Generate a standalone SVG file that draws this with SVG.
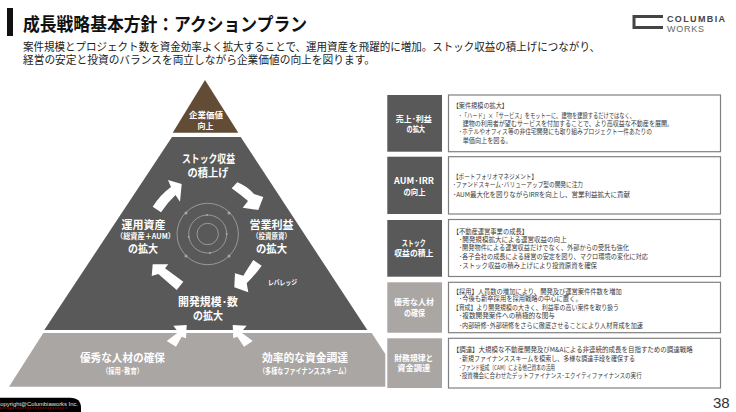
<svg xmlns="http://www.w3.org/2000/svg" width="736" height="412" viewBox="0 0 736 412">
<style>
text{font-family:"Noto Sans CJK JP","Liberation Sans",sans-serif}
.c{text-anchor:middle}
.w{fill:#fff;font-weight:700}
.tm{font-size:11px}
.ts{font-size:7.500px}
.lb{font-size:8.500px;fill:#fff;font-weight:700}
.b{fill:#fff;stroke:#808080;stroke-width:1.200}
.t{font-size:6.800px;fill:#3a3a3a}
.ring{fill:none;stroke:#a8a8a8;stroke-width:.8}
.dot{fill:#a8a8a8}
.ar{fill:#fff}
.lt{font-family:"Liberation Sans",sans-serif}
</style>
<rect width="736" height="412" fill="#fff"/>
<g id="header">
<rect x="7" y="8" width="6" height="28" fill="#111"/>
<text x="23" y="30.500" font-size="18.500" font-weight="700" fill="#111" textLength="284" lengthAdjust="spacingAndGlyphs">成長戦略基本方針：アクションプラン</text>
<text x="23" y="51" font-size="11" fill="#222" textLength="577" lengthAdjust="spacingAndGlyphs">案件規模とプロジェクト数を資金効率よく拡大することで、運用資産を飛躍的に増加。ストック収益の積上げにつながり、</text>
<text x="23" y="64" font-size="11" fill="#222" textLength="352" lengthAdjust="spacingAndGlyphs">経営の安定と投資のバランスを両立しながら企業価値の向上を図ります。</text>
</g>
<g id="logo">
<path d="M663 16.500H634V27.500H663" fill="none" stroke="#444" stroke-width="3"/>
<text class="lt" x="667" y="21.500" font-size="9" font-weight="700" fill="#444" textLength="58">COLUMBIA</text>
<text class="lt" x="667" y="32" font-size="9" fill="#666" textLength="37">WORKS</text>
</g>
<g id="top-triangle">
<polygon points="205,80 238.300,132.700 172.700,132.700" fill="#634c36"/>
<text class="c w" x="206" y="118" font-size="8.500" textLength="34" lengthAdjust="spacingAndGlyphs">企業価値</text>
<text class="c w" x="205.500" y="129" font-size="8">向上</text>
</g>
<g id="main-triangle">
<polygon points="172,137 240.700,137 367.300,330 44.300,330" fill="#595959"/>
<text class="c w tm" x="208.500" y="163" textLength="53" lengthAdjust="spacingAndGlyphs">ストック収益</text>
<text class="c w tm" x="208" y="177" textLength="41" lengthAdjust="spacingAndGlyphs">の積上げ</text>
<text class="c w tm" x="143.500" y="229">運用資産</text>
<text class="c w ts" x="145.500" y="239" textLength="59" lengthAdjust="spacingAndGlyphs">（総資産＋AUM）</text>
<text class="c w tm" x="143" y="253" textLength="30" lengthAdjust="spacingAndGlyphs">の拡大</text>
<text class="c w tm" x="271.500" y="229">営業利益</text>
<text class="c w ts" x="271.500" y="239" textLength="39" lengthAdjust="spacingAndGlyphs">（投資原資）</text>
<text class="c w tm" x="271.500" y="253" textLength="31" lengthAdjust="spacingAndGlyphs">の拡大</text>
<text class="c w tm" x="208" y="306" textLength="60" lengthAdjust="spacingAndGlyphs">開発規模･数</text>
<text class="c w tm" x="208" y="320" textLength="30" lengthAdjust="spacingAndGlyphs">の拡大</text>
<text class="w" x="268" y="285" font-size="7" textLength="29" lengthAdjust="spacingAndGlyphs">レバレッジ</text>
</g>
<g id="bottom-band">
<polygon points="43.300,333 371.700,333 385.300,354 385.300,386.700 9,386.700" fill="#aaa6a4"/>
<text class="c w tm" x="122.500" y="362" textLength="85" lengthAdjust="spacingAndGlyphs">優秀な人材の確保</text>
<text class="c w ts" x="122.500" y="374" textLength="41" lengthAdjust="spacingAndGlyphs">（採用･教育）</text>
<text class="c w tm" x="305" y="362" textLength="86" lengthAdjust="spacingAndGlyphs">効率的な資金調達</text>
<text class="c w ts" x="304.500" y="374" textLength="91" lengthAdjust="spacingAndGlyphs">（多様なファイナンススキーム）</text>
</g>
<g id="connectors">
<path class="ar" d="M152.700 206.700Q160 195 171 187L168 180L181.700 184L180 201.700L175.500 195Q167 203 161 212.300Z"/>
<path class="ar" d="M237.300 182.300Q247 186 254 194L263.300 197L258.300 210L242.700 207.700L248 201Q241 195 231.700 188.300Z"/>
<path class="ar" d="M253.300 260L261.700 265.700Q255 275 246.700 283.300L248.300 292.300L234.300 287.300L235 273.300L243.300 275.700Q248 268 253.300 260Z"/>
<path class="ar" d="M183.300 281.700L176.700 290L158.300 274L151.700 276L152.700 264.300L168.300 264.300L165 268.300Z"/>
<path class="ar" d="M166.700 341L178.300 332.300L173.300 325.700L186.700 325L186 338.300L181.700 336.700L176 346.700Z"/>
<path class="ar" d="M252.700 341L241 332.300L246.700 325.700L232.700 325L233.300 338.300L237.300 336.700L244 346.700Z"/>
</g>
<g id="center-rings">
<circle class="ring" cx="207.700" cy="234" r="30.700"/>
<circle class="ring" cx="207.700" cy="234" r="19"/>
<circle class="ring" cx="207.700" cy="234" r="10.700"/>
<circle class="dot" cx="186" cy="213" r="1.500"/><circle class="dot" cx="229" cy="213" r="1.500"/><circle class="dot" cx="186" cy="256" r="1.500"/><circle class="dot" cx="229" cy="256" r="1.500"/>
<circle class="dot" cx="207" cy="215" r="1"/><circle class="dot" cx="188.700" cy="237" r="1"/><circle class="dot" cx="226.700" cy="234" r="1"/><circle class="dot" cx="210" cy="253" r="1"/>
</g>
<g id="row1">
<rect x="387.300" y="95" width="54.700" height="56.700" fill="#595959"/>
<text class="lb" x="395.700" y="121.500" textLength="36" lengthAdjust="spacingAndGlyphs">売上･利益</text><text class="lb" x="406.500" y="132" textLength="18.500" lengthAdjust="spacingAndGlyphs">の拡大</text>
<rect class="b" x="448.500" y="95" width="272" height="56.700"/>
<text class="t" x="452.700" y="108.300" textLength="55.300" lengthAdjust="spacingAndGlyphs">【案件規模の拡大】</text>
<text class="t" x="459" y="117.500" textLength="176" lengthAdjust="spacingAndGlyphs">･「ハード」×「サービス」をモットーに、建物を建設するだけではなく、</text>
<text class="t" x="462.700" y="125.800" textLength="210.300" lengthAdjust="spacingAndGlyphs">建物の利用者が望むサービスを付加することで、より高収益な不動産を展開。</text>
<text class="t" x="459" y="134.200" textLength="193" lengthAdjust="spacingAndGlyphs">･ホテルやオフィス等の非住宅開発にも取り組みプロジェクト一件あたりの</text>
<text class="t" x="462.700" y="143.200" textLength="49" lengthAdjust="spacingAndGlyphs">単価向上を図る。</text>
</g>
<g id="row2">
<rect x="387.300" y="156.700" width="54.700" height="57.300" fill="#595959"/>
<text class="lb" x="394" y="184" textLength="40" lengthAdjust="spacingAndGlyphs">AUM･IRR</text><text class="lb" x="403.500" y="194.500" textLength="22" lengthAdjust="spacingAndGlyphs">の向上</text>
<rect class="b" x="448.500" y="156.700" width="272" height="57.300"/>
<text class="t" x="453" y="178.500" textLength="84" lengthAdjust="spacingAndGlyphs">【ポートフォリオマネジメント】</text>
<text class="t" x="453" y="186.800" textLength="130" lengthAdjust="spacingAndGlyphs">･ファンドスキーム･バリューアップ型の開発に注力</text>
<text class="t" x="453" y="196.500" textLength="177" lengthAdjust="spacingAndGlyphs">･AUM最大化を図りながらIRRを向上し、営業利益拡大に貢献</text>
</g>
<g id="row3">
<rect x="387.300" y="220" width="54.700" height="56.700" fill="#595959"/>
<text class="lb" x="401.700" y="246" textLength="24" lengthAdjust="spacingAndGlyphs">ストック</text><text class="lb" x="394.300" y="256" textLength="39" lengthAdjust="spacingAndGlyphs">収益の積上</text>
<rect class="b" x="448.500" y="219.500" width="272" height="57"/>
<text class="t" x="452.700" y="233.500" textLength="75.300" lengthAdjust="spacingAndGlyphs">【不動産運営事業の成長】</text>
<text class="t" x="459" y="241.800" textLength="107.700" lengthAdjust="spacingAndGlyphs">･開発規模拡大による運営収益の向上</text>
<text class="t" x="459" y="250.200" textLength="170" lengthAdjust="spacingAndGlyphs">･開発物件による運営収益だけでなく、外部からの受託も強化</text>
<text class="t" x="459" y="258.800" textLength="189" lengthAdjust="spacingAndGlyphs">･各子会社の成長による経営の安定を図り、マクロ環境の変化に対応</text>
<text class="t" x="459" y="267.500" textLength="138" lengthAdjust="spacingAndGlyphs">･ストック収益の積み上げにより投資原資を確保</text>
</g>
<g id="row4">
<rect x="387.300" y="282.300" width="54.700" height="50.400" fill="#aaa6a4"/>
<text class="lb" x="394" y="305" textLength="40" lengthAdjust="spacingAndGlyphs">優秀な人材</text><text class="lb" x="404" y="316" textLength="21" lengthAdjust="spacingAndGlyphs">の確保</text>
<rect class="b" x="448.500" y="282.300" width="272" height="50.400"/>
<text class="t" x="452.700" y="293.500" textLength="169" lengthAdjust="spacingAndGlyphs">【採用】人員数の増加により、開発及び運営案件件数を増加</text>
<text class="t" x="459" y="301.200" textLength="122.700" lengthAdjust="spacingAndGlyphs">･今後も新卒採用を採用戦略の中心に置く。</text>
<text class="t" x="452.700" y="310.200" textLength="166.300" lengthAdjust="spacingAndGlyphs">【育成】より開発規模の大きく、利益率の高い案件を取り扱う</text>
<text class="t" x="459" y="318.200" textLength="96" lengthAdjust="spacingAndGlyphs">･複数開発案件への積極的な関与</text>
<text class="t" x="459" y="327.500" textLength="184" lengthAdjust="spacingAndGlyphs">･内部研修･外部研修をさらに徹底させることにより人材育成を加速</text>
</g>
<g id="row5">
<rect x="387.300" y="338.300" width="54.700" height="49.700" fill="#aaa6a4"/>
<text class="lb" x="394.300" y="361" textLength="39" lengthAdjust="spacingAndGlyphs">財務規律と</text><text class="lb" x="397.300" y="371" textLength="33" lengthAdjust="spacingAndGlyphs">資金調達</text>
<rect class="b" x="448.500" y="338.300" width="272" height="49.700"/>
<text class="t" x="452.700" y="352.200" textLength="240" lengthAdjust="spacingAndGlyphs">【調達】大規模な不動産開発及びM&amp;Aによる非連続的成長を目指すための調達戦略</text>
<text class="t" x="459" y="361.200" textLength="176" lengthAdjust="spacingAndGlyphs">･新規ファイナンススキームを模索し、多様な調達手段を確保する</text>
<text class="t" x="459" y="369.500" textLength="96" lengthAdjust="spacingAndGlyphs">･ファンド組成（CAM）による他己資本の活用</text>
<text class="t" x="459" y="377.800" textLength="182.700" lengthAdjust="spacingAndGlyphs">･投資機会に合わせたデットファイナンス･エクイティファイナンスの実行</text>
</g>
<g id="footer">
<path d="M0 397.700H70Q81 397.700 81 408V412H0Z" fill="#000"/>
<text class="lt" x="-4" y="406" font-size="6" fill="#e0e0e0" textLength="82" lengthAdjust="spacingAndGlyphs">Copyright@Columbiaworks Inc.</text>
<path d="M0 408H68" fill="none" stroke="#c00" stroke-width="1" stroke-dasharray="1.500 1"/>
<text class="lt" x="713" y="408" font-size="15" fill="#333">38</text>
</g>
</svg>
